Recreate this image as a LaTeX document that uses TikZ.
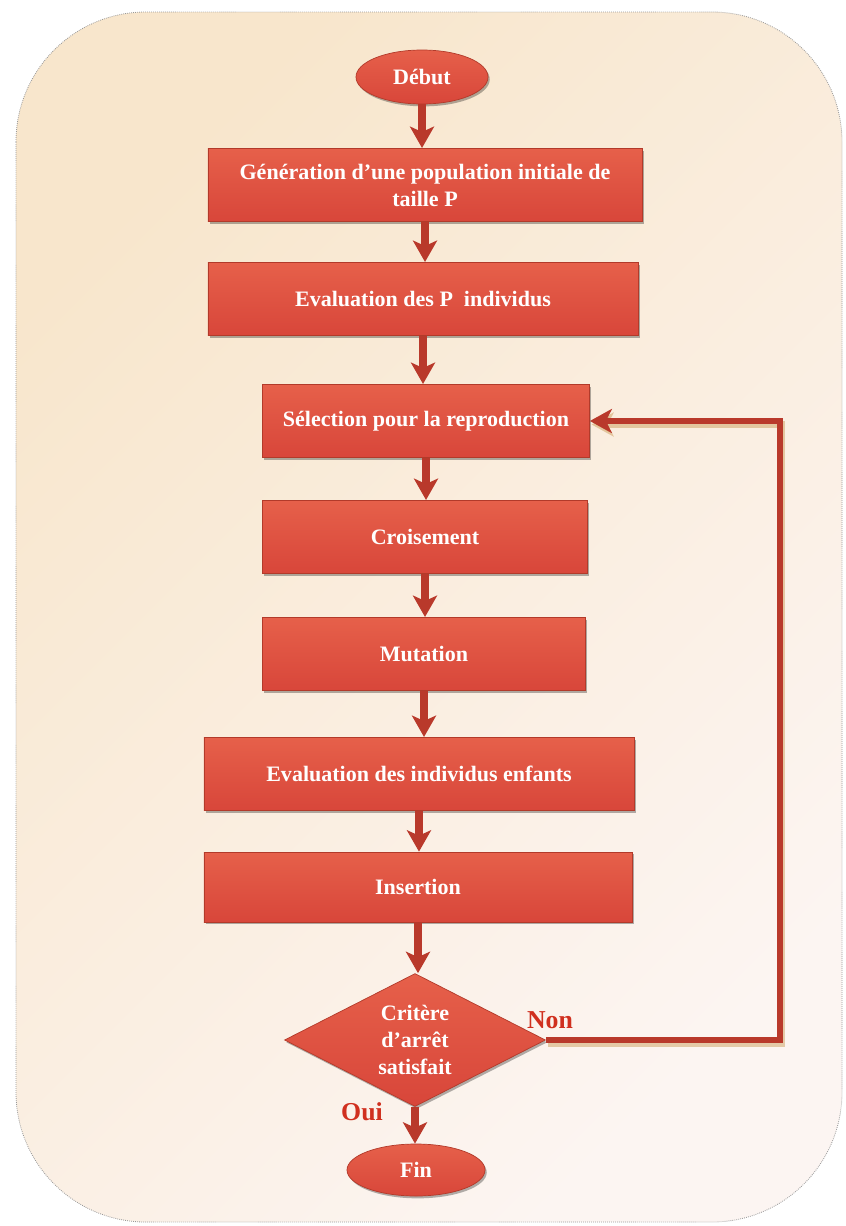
\documentclass[tikz,border=0pt]{standalone}
\usepackage{fontspec}
\setmainfont{Liberation Serif}
\usetikzlibrary{arrows.meta,shapes.geometric,shadows}

\definecolor{boxtop}{HTML}{E6604A}
\definecolor{boxbot}{HTML}{D8463A}
\definecolor{boxedge}{HTML}{B23A2A}
\definecolor{arrowred}{HTML}{B9392B}
\definecolor{labelred}{HTML}{D0301F}
\definecolor{paperA}{HTML}{F8E6CC}
\definecolor{paperB}{HTML}{FCF5F2}
\definecolor{lineshadow}{HTML}{C8964E}

\begin{document}
\begin{tikzpicture}[x=0.03cm,y=-0.03cm,
  every node/.style={font=\fontsize{18.8}{23}\selectfont\bfseries, text=white, align=center},
  boxshadow/.style={drop shadow={shadow xshift=1.5pt, shadow yshift=-2pt, fill=black, opacity=0.3}},
  stepbox/.style={rectangle, top color=boxtop, bottom color=boxbot, draw=boxedge,
    line width=0.6pt, minimum height=2.2cm, inner sep=2pt, boxshadow},
  terminal/.style={ellipse, top color=boxtop, bottom color=boxbot, draw=boxedge,
    line width=0.6pt, minimum width=3.96cm, minimum height=1.62cm, inner sep=0pt, boxshadow},
  decision/.style={diamond, aspect=1.96, top color=boxtop, bottom color=boxbot, draw=boxedge,
    line width=0.6pt, minimum width=7.83cm, minimum height=3.99cm, inner sep=0pt, boxshadow},
  flow/.style={draw=arrowred, line width=0.24cm,
    -{Stealth[length=0.64cm, width=0.72cm, inset=0.16cm]}},
  loopline/.style={draw=arrowred, line width=0.19cm, line join=miter,
    -{Stealth[length=0.66cm, width=0.72cm, inset=0.18cm]},
    preaction={draw=lineshadow, opacity=0.45, line width=0.19cm,
      transform canvas={shift={(1.5pt,-3pt)}}}},
  answer/.style={font=\fontsize{22}{26}\selectfont\bfseries, text=labelred}
]
\useasboundingbox (0,0) rectangle (846,1226);
\fill[white] (0,0) rectangle (846,1226);

% paper sheet behind the chart
\path[draw=gray!80, densely dotted, line width=0.7pt, rounded corners=3.9cm,
  left color=paperA, right color=paperB, shading angle=45]
  (16,12) rectangle (842,1222);

% steps of the genetic algorithm
\node[terminal] (debut) at (422,77) {Début};
\node[stepbox, minimum width=13.02cm] (gen) at (425,185)
  {Génération d’une population initiale de\\taille P};
\node[stepbox, minimum width=12.9cm] (eval) at (423,299) {Evaluation des P\ \ individus};
\node[stepbox, minimum width=9.81cm] (sel) at (426,421) {Sélection pour la reproduction};
\node[stepbox, minimum width=9.75cm] (crois) at (425,537) {Croisement};
\node[stepbox, minimum width=9.69cm] (mut) at (424,654) {Mutation};
\node[stepbox, minimum width=12.9cm] (evalenf) at (419,774) {Evaluation des individus enfants};
\node[stepbox, minimum width=12.84cm, minimum height=2.1cm] (ins) at (418,887) {Insertion};
\node[decision] (crit) at (415,1040) {Critère\\d’arrêt\\satisfait};
\node[terminal, minimum width=4.14cm, minimum height=1.56cm] (fin) at (416,1170) {Fin};

% main flow
\draw[flow] (debut.south) -- (debut.south |- gen.north);
\draw[flow] (gen.south) -- (gen.south |- eval.north);
\draw[flow] (eval.south) -- (eval.south |- sel.north);
\draw[flow] (sel.south) -- (sel.south |- crois.north);
\draw[flow] (crois.south) -- (crois.south |- mut.north);
\draw[flow] (mut.south) -- (mut.south |- evalenf.north);
\draw[flow] (evalenf.south) -- (evalenf.south |- ins.north);
\draw[flow] (ins.south) -- (ins.south |- crit.north);
\draw[flow] (crit.south) -- (crit.south |- fin.north);

% loop back when the stopping criterion fails
\coordinate (loopx) at (780,0);
\draw[loopline] (crit.east) -| (sel.east -| loopx) -- (sel.east);

\node[answer] (non) at (550,1020) {Non};
\node[answer] (oui) at (362,1112) {Oui};
\end{tikzpicture}
\end{document}
